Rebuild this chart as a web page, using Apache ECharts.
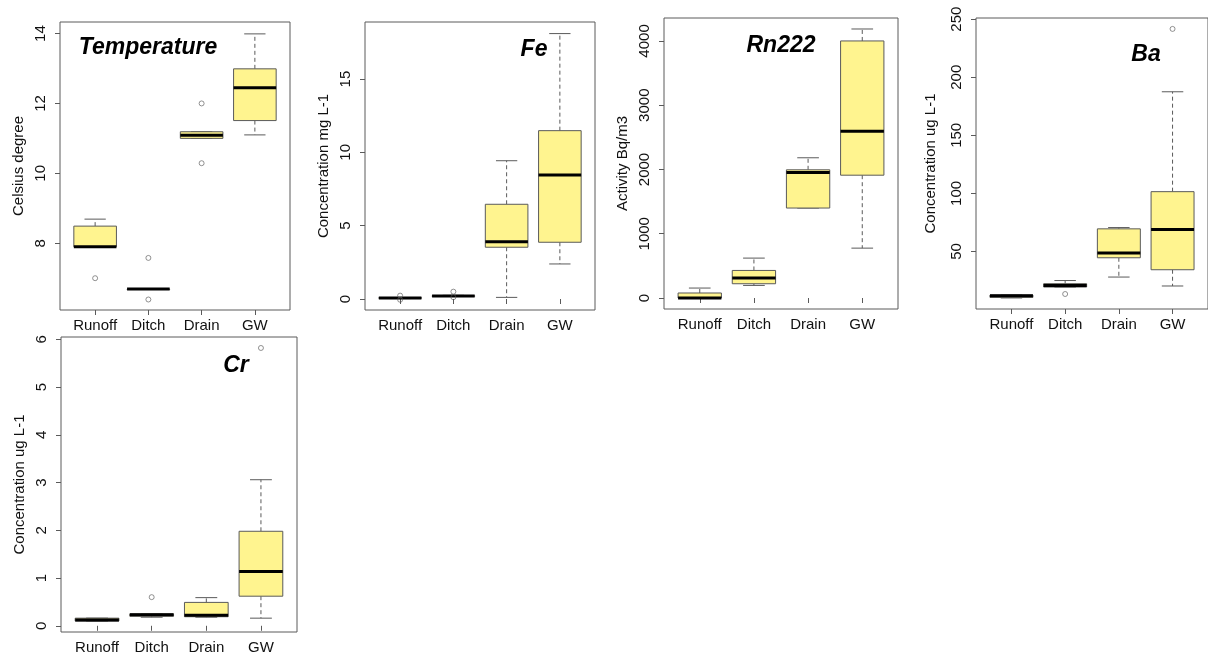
<!DOCTYPE html>
<html>
<head>
<meta charset="utf-8">
<script src="https://cdn.jsdelivr.net/npm/echarts@6/dist/echarts.min.js"></script>
<style>
html,body{margin:0;padding:0;background:#fff;}
#main{width:1208px;height:661px;}
</style>
</head>
<body>
<div id="main"></div>
<script>
// Categories
const categories = ['Runoff', 'Ditch', 'Drain', 'GW'];

// Box stats per category: [lowerWhisker, Q1, median, Q3, upperWhisker]
const tempBox = [[7.9, 7.9, 7.9, 8.49, 8.69], [6.69, 6.69, 6.69, 6.69, 6.69], [11.0, 11.0, 11.09, 11.19, 11.19], [11.1, 11.51, 12.45, 12.99, 13.99]];
const tempOut = [[1, 7.0], [2, 7.58], [2, 6.39], [3, 12.0], [3, 10.29]];
const tempTicks = [8, 10, 12, 14];

const feBox = [[0.03, 0.05, 0.07, 0.09, 0.1], [0.17, 0.18, 0.2, 0.22, 0.25], [0.11, 3.53, 3.9, 6.46, 9.43], [2.39, 3.87, 8.45, 11.48, 18.1]];
const feOut = [[1, 0.23], [1, -0.05], [2, 0.5], [2, 0.12]];
const feTicks = [0, 5, 10, 15];

const rnBox = [[0, 0, 0, 78, 155], [196, 222, 311, 429, 621], [1400, 1400, 1953, 1995, 2182], [776, 1911, 2595, 4000, 4186]];
const rnOut = [];
const rnTicks = [0, 1000, 2000, 3000, 4000];

const baBox = [[10, 10.5, 12, 12.5, 12.5], [19.4, 19.4, 20.8, 22.3, 25], [28, 44.6, 48.6, 69.5, 70.6], [20.3, 34.3, 68.9, 101.5, 187.5]];
const baOut = [[2, 13.4], [4, 241.6]];
const baTicks = [50, 100, 150, 200, 250];

const crBox = [[0.1, 0.1, 0.12, 0.16, 0.16], [0.18, 0.2, 0.23, 0.25, 0.25], [0.18, 0.19, 0.22, 0.49, 0.59], [0.16, 0.62, 1.14, 1.98, 3.06]];
const crOut = [[2, 0.6], [4, 5.82]];
const crTicks = [0, 1, 2, 3, 4, 5, 6];

const panelTitles = ['Temperature', 'Fe', 'Rn222', 'Ba', 'Cr'];
const yNames = ['Celsius degree', 'Concentration mg L-1', 'Activity Bq/m3', 'Concentration ug L-1', 'Concentration ug L-1'];

// ---- layout / style ----
const FONT = "'Liberation Sans', Arial, sans-serif";
const FILL = '#FFF48F';
const GRAY = '#5a5a5a';

const panels = [
  {box: tempBox, out: tempOut, ticks: tempTicks, ymin: 6.09, ymax: 14.33, grid: {left: 60, top: 22, width: 230, height: 288}, title: [148, 48], nameGap: 34},
  {box: feBox, out: feOut, ticks: feTicks, ymin: -0.75, ymax: 18.89, grid: {left: 365, top: 22, width: 230, height: 288}, title: [534, 50], nameGap: 34},
  {box: rnBox, out: rnOut, ticks: rnTicks, ymin: -171, ymax: 4357, grid: {left: 664, top: 18, width: 234, height: 291}, title: [781, 46], nameGap: 34},
  {box: baBox, out: baOut, ticks: baTicks, ymin: 0.5, ymax: 251, grid: {left: 976, top: 18, width: 232, height: 291}, title: [1146, 55], nameGap: 38},
  {box: crBox, out: crOut, ticks: crTicks, ymin: -0.13, ymax: 6.05, grid: {left: 61, top: 337, width: 236, height: 295}, title: [236, 366], nameGap: 34}
];

function renderBox(params, api) {
  const x = api.value(0);
  const lo = api.coord([x, api.value(1)]);
  const q1 = api.coord([x, api.value(2)]);
  const md = api.coord([x, api.value(3)]);
  const q3 = api.coord([x, api.value(4)]);
  const hi = api.coord([x, api.value(5)]);
  const bw = api.size([0.8, 0])[0];
  const cw = api.size([0.4, 0])[0];
  const cx = lo[0];
  const children = [];
  const dash = {stroke: GRAY, lineWidth: 1, lineDash: [4, 3]};
  const solid = {stroke: GRAY, lineWidth: 1};
  children.push({type: 'line', shape: {x1: cx, y1: q1[1], x2: cx, y2: lo[1]}, style: dash});
  children.push({type: 'line', shape: {x1: cx, y1: q3[1], x2: cx, y2: hi[1]}, style: dash});
  children.push({type: 'line', shape: {x1: cx - cw / 2, y1: lo[1], x2: cx + cw / 2, y2: lo[1]}, style: solid});
  children.push({type: 'line', shape: {x1: cx - cw / 2, y1: hi[1], x2: cx + cw / 2, y2: hi[1]}, style: solid});
  children.push({type: 'rect', shape: {x: cx - bw / 2, y: q3[1], width: bw, height: Math.max(q1[1] - q3[1], 0.5)}, style: {fill: FILL, stroke: GRAY, lineWidth: 1}});
  children.push({type: 'line', shape: {x1: cx - bw / 2, y1: md[1], x2: cx + bw / 2, y2: md[1]}, style: {stroke: '#000', lineWidth: 3}});
  return {type: 'group', children: children};
}

const grids = [], xAxes = [], yAxes = [], series = [], graphics = [];
panels.forEach(function (p, i) {
  grids.push(Object.assign({show: true, borderColor: GRAY, borderWidth: 1, backgroundColor: 'transparent'}, p.grid));
  xAxes.push({
    type: 'value', gridIndex: i, min: 0.34, max: 4.66,
    splitLine: {show: false}, axisLine: {show: false},
    axisTick: {show: true, length: 5, lineStyle: {color: GRAY}, customValues: [1, 2, 3, 4]},
    axisLabel: {show: true, margin: 8, color: '#111', fontSize: 15, fontFamily: FONT, customValues: [1, 2, 3, 4],
      formatter: function (v) { return categories[Math.round(v) - 1] || ''; }}
  });
  yAxes.push({
    type: 'value', gridIndex: i, min: p.ymin, max: p.ymax,
    splitLine: {show: false}, axisLine: {show: false},
    axisTick: {show: true, length: 5, lineStyle: {color: GRAY}, customValues: p.ticks},
    axisLabel: {show: true, rotate: 90, margin: 12, color: '#111', fontSize: 15, fontFamily: FONT, customValues: p.ticks,
      formatter: function (v) { return String(v); }},
    name: yNames[i], nameLocation: 'middle', nameRotate: 90, nameGap: p.nameGap,
    nameTextStyle: {color: '#111', fontSize: 15, fontFamily: FONT}
  });
  series.push({
    type: 'custom', xAxisIndex: i, yAxisIndex: i,
    data: p.box.map(function (b, k) { return [k + 1].concat(b); }),
    encode: {x: 0, y: [1, 2, 3, 4, 5]},
    renderItem: renderBox, silent: true, clip: false, z: 2
  });
  series.push({
    type: 'scatter', xAxisIndex: i, yAxisIndex: i,
    data: p.out, symbol: 'circle', symbolSize: 5,
    itemStyle: {color: 'rgba(255,255,255,0)', borderColor: '#555', borderWidth: 0.8}, silent: true, z: 3
  });
  graphics.push({
    type: 'text', x: p.title[0], y: p.title[1], silent: true,
    style: {text: panelTitles[i], fill: '#000', font: 'italic bold 23px ' + FONT, align: 'center', verticalAlign: 'middle'}
  });
});

const chart = echarts.init(document.getElementById('main'), null, {renderer: 'canvas'});
chart.setOption({
  animation: false,
  backgroundColor: '#fff',
  grid: grids, xAxis: xAxes, yAxis: yAxes, series: series,
  graphic: graphics
});
</script>
</body>
</html>
